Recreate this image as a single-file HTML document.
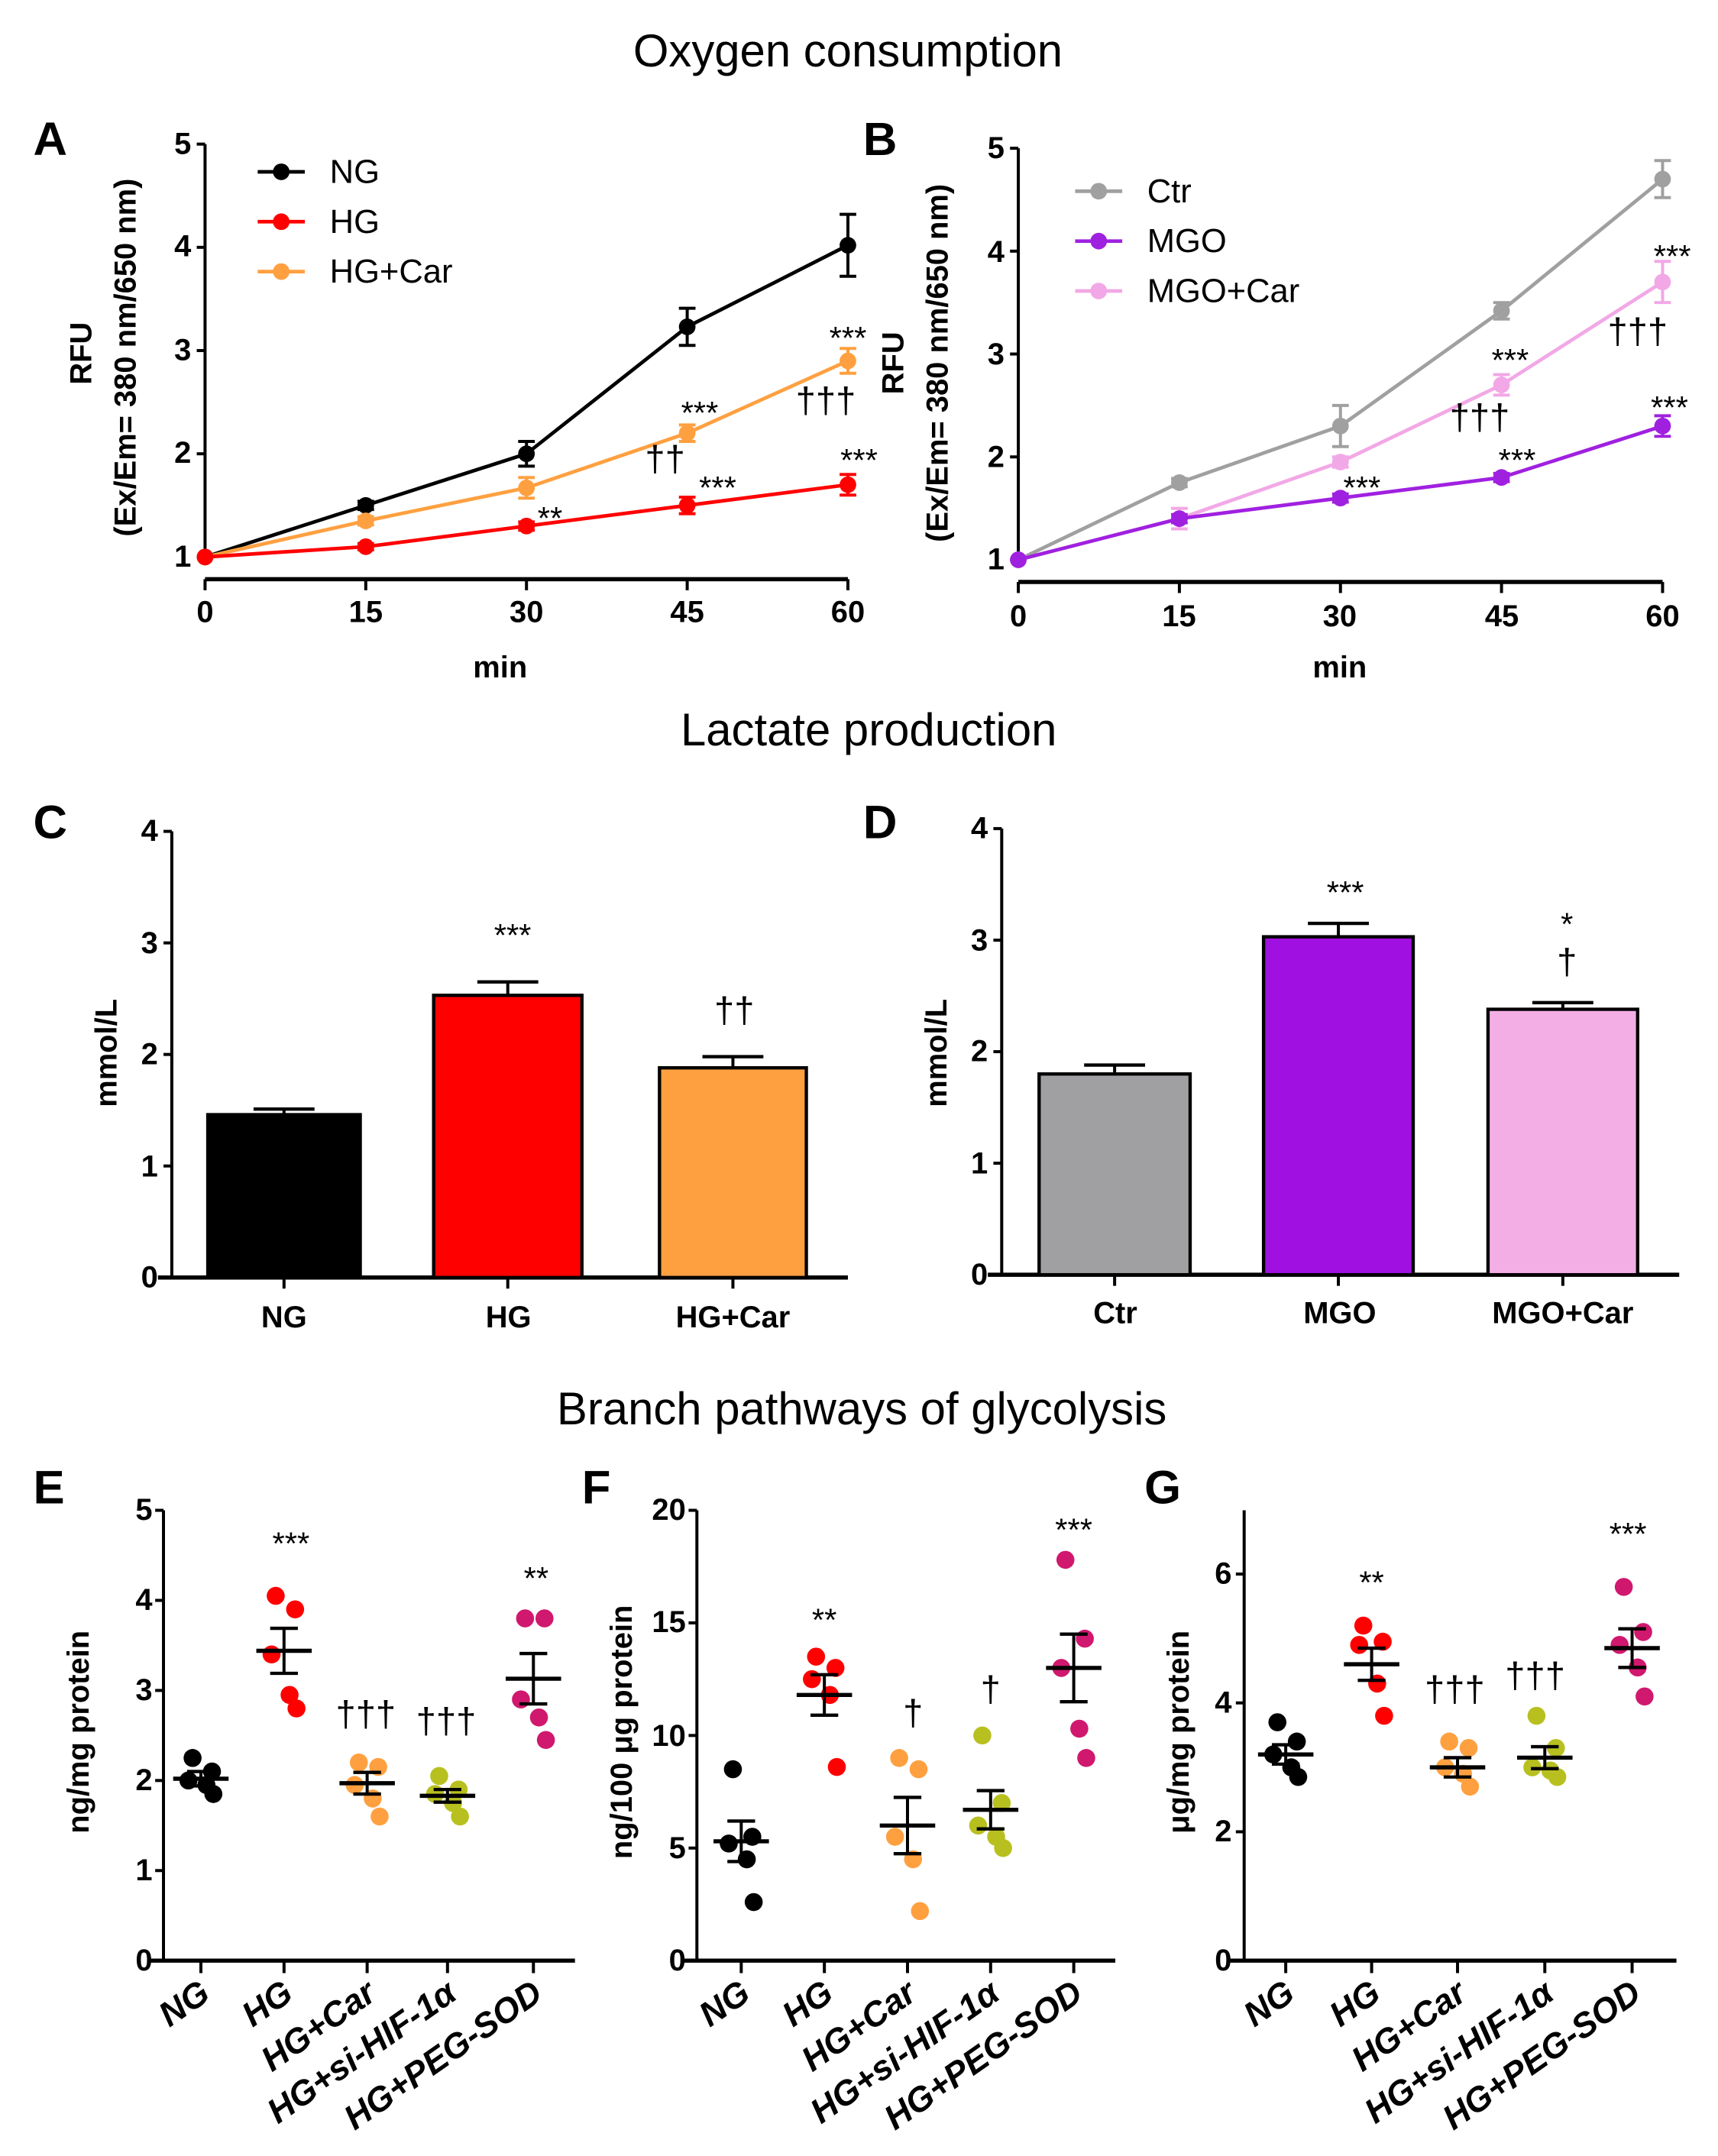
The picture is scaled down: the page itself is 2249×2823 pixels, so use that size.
<!DOCTYPE html>
<html><head><meta charset="utf-8"><style>
html,body{margin:0;padding:0;background:#fff}
svg{display:block}
text{font-family:"Liberation Sans",Arial,sans-serif}
.t{font-size:33px}
.L{font-size:34px;font-weight:bold}
.tk{font-size:22px;font-weight:bold}
.ax{font-size:22px;font-weight:bold}
.an{font-size:23px}
.lg{font-size:24px}
.xl{font-size:25px;font-weight:bold;font-style:italic}
</style></head><body>
<svg id="s" width="2249" height="2823" viewBox="0 0 1240 1556" preserveAspectRatio="none" xmlns="http://www.w3.org/2000/svg">
<rect width="1240" height="1556" fill="#fff"/>
<g id="g"></g>
<text class="t" x="612" y="48" text-anchor="middle">Oxygen consumption</text>
<text class="t" x="627" y="538" text-anchor="middle">Lactate production</text>
<text class="t" x="622" y="1028" text-anchor="middle">Branch pathways of glycolysis</text>
<text class="L" x="24" y="112">A</text>
<text class="L" x="623" y="112">B</text>
<text class="L" x="24" y="605">C</text>
<text class="L" x="623" y="605">D</text>
<text class="L" x="24" y="1085">E</text>
<text class="L" x="420" y="1085">F</text>
<text class="L" x="826" y="1085">G</text>
<g class="tk" text-anchor="end">
<text x="138" y="111">5</text><text x="138" y="185">4</text><text x="138" y="260">3</text><text x="138" y="334">2</text><text x="138" y="409">1</text>
</g>
<g class="tk" text-anchor="middle">
<text x="148" y="449">0</text><text x="264" y="449">15</text><text x="380" y="449">30</text><text x="496" y="449">45</text><text x="612" y="449">60</text>
</g>
<text class="ax" x="361" y="489" text-anchor="middle">min</text>
<text class="ax" transform="translate(66,255) rotate(-90)" text-anchor="middle">RFU</text>
<text class="ax" transform="translate(98,258) rotate(-90)" text-anchor="middle">(Ex/Em= 380 nm/650 nm)</text>
<g class="lg"><text x="238" y="132">NG</text><text x="238" y="168">HG</text><text x="238" y="204">HG+Car</text></g>
<g class="an" text-anchor="middle">
<text x="397" y="382">**</text><text x="505" y="306">***</text><text x="480" y="340" font-size="26">††</text><text x="518" y="360">***</text>
<text x="612" y="252">***</text><text x="596" y="298" font-size="26">†††</text><text x="620" y="340">***</text>
</g>
<g class="tk" text-anchor="end">
<text x="725" y="114">5</text><text x="725" y="189">4</text><text x="725" y="263">3</text><text x="725" y="337">2</text><text x="725" y="411">1</text>
</g>
<g class="tk" text-anchor="middle">
<text x="735" y="452">0</text><text x="851" y="452">15</text><text x="967" y="452">30</text><text x="1084" y="452">45</text><text x="1200" y="452">60</text>
</g>
<text class="ax" x="967" y="489" text-anchor="middle">min</text>
<text class="ax" transform="translate(652,262) rotate(-90)" text-anchor="middle">RFU</text>
<text class="ax" transform="translate(684,262) rotate(-90)" text-anchor="middle">(Ex/Em= 380 nm/650 nm)</text>
<g class="lg"><text x="828" y="146">Ctr</text><text x="828" y="182">MGO</text><text x="828" y="218">MGO+Car</text></g>
<g class="an" text-anchor="middle">
<text x="1207" y="193">***</text><text x="1182" y="248" font-size="26">†††</text><text x="1090" y="268">***</text><text x="1068" y="310" font-size="26">†††</text>
<text x="1205" y="302">***</text><text x="1095" y="340">***</text><text x="983" y="360">***</text>
</g>
<g class="tk" text-anchor="end">
<text x="114" y="607">4</text><text x="114" y="688">3</text><text x="114" y="768">2</text><text x="114" y="849">1</text><text x="114" y="929">0</text>
</g>
<g class="ax" text-anchor="middle"><text x="205" y="958">NG</text><text x="367" y="958">HG</text><text x="529" y="958">HG+Car</text></g>
<text class="ax" transform="translate(84,760) rotate(-90)" text-anchor="middle">mmol/L</text>
<g class="an" text-anchor="middle"><text x="370" y="683">***</text><text x="530" y="738" font-size="26">††</text></g>
<g class="tk" text-anchor="end">
<text x="713" y="605">4</text><text x="713" y="686">3</text><text x="713" y="766">2</text><text x="713" y="847">1</text><text x="713" y="927">0</text>
</g>
<g class="ax" text-anchor="middle"><text x="805" y="955">Ctr</text><text x="967" y="955">MGO</text><text x="1128" y="955">MGO+Car</text></g>
<text class="ax" transform="translate(683,760) rotate(-90)" text-anchor="middle">mmol/L</text>
<g class="an" text-anchor="middle"><text x="971" y="652">***</text><text x="1131" y="675">*</text><text x="1131" y="703" font-size="26">†</text></g>
<g class="tk" text-anchor="end">
<text x="110" y="1097">5</text><text x="110" y="1162">4</text><text x="110" y="1227">3</text><text x="110" y="1292">2</text><text x="110" y="1357">1</text><text x="110" y="1422">0</text>
</g>
<text class="ax" transform="translate(64,1250) rotate(-90)" text-anchor="middle">ng/mg protein</text>
<g class="an" text-anchor="middle"><text x="210" y="1122">***</text><text x="264" y="1246" font-size="26">†††</text><text x="322" y="1251" font-size="26">†††</text><text x="387" y="1147">**</text></g>
<g class="xl" text-anchor="end">
<text transform="translate(153,1442) rotate(-35)">NG</text>
<text transform="translate(213,1442) rotate(-35)">HG</text>
<text transform="translate(273,1442) rotate(-35)">HG+Car</text>
<text transform="translate(331,1442) rotate(-35)">HG+si-HIF-1α</text>
<text transform="translate(393,1442) rotate(-35)">HG+PEG-SOD</text>
</g>
<g class="tk" text-anchor="end">
<text x="495" y="1097">20</text><text x="495" y="1178">15</text><text x="495" y="1260">10</text><text x="495" y="1341">5</text><text x="495" y="1422">0</text>
</g>
<text class="ax" transform="translate(456,1250) rotate(-90)" text-anchor="middle">ng/100 μg protein</text>
<g class="an" text-anchor="middle"><text x="595" y="1177">**</text><text x="659" y="1245" font-size="26">†</text><text x="715" y="1228" font-size="26">†</text><text x="775" y="1112">***</text></g>
<g class="xl" text-anchor="end">
<text transform="translate(543,1442) rotate(-35)">NG</text>
<text transform="translate(603,1442) rotate(-35)">HG</text>
<text transform="translate(663,1442) rotate(-35)">HG+Car</text>
<text transform="translate(723,1442) rotate(-35)">HG+si-HIF-1α</text>
<text transform="translate(783,1442) rotate(-35)">HG+PEG-SOD</text>
</g>
<g class="tk" text-anchor="end">
<text x="889" y="1143">6</text><text x="889" y="1236">4</text><text x="889" y="1329">2</text><text x="889" y="1422">0</text>
</g>
<text class="ax" transform="translate(858,1250) rotate(-90)" text-anchor="middle">μg/mg protein</text>
<g class="an" text-anchor="middle"><text x="990" y="1150">**</text><text x="1050" y="1228" font-size="26">†††</text><text x="1108" y="1218" font-size="26">†††</text><text x="1175" y="1115">***</text></g>
<g class="xl" text-anchor="end">
<text transform="translate(936,1442) rotate(-35)">NG</text>
<text transform="translate(998,1442) rotate(-35)">HG</text>
<text transform="translate(1060,1442) rotate(-35)">HG+Car</text>
<text transform="translate(1123,1442) rotate(-35)">HG+si-HIF-1α</text>
<text transform="translate(1186,1442) rotate(-35)">HG+PEG-SOD</text>
</g>
</svg>
<script>
var g=document.getElementById('g'),NS='http://www.w3.org/2000/svg';
function el(t,a){var e=document.createElementNS(NS,t);for(var k in a)e.setAttribute(k,a[k]);g.appendChild(e);return e}
function ln(x1,y1,x2,y2,c,w){el('line',{x1:x1,y1:y1,x2:x2,y2:y2,stroke:c||'#000','stroke-width':w||2.2})}
function circ(x,y,r,c){el('circle',{cx:x,cy:y,r:r,fill:c})}
function linePanel(x0,dx,y1,dy,axY,topY,series,legend){
  ln(x0,topY,x0,axY-14);ln(x0,axY,x0+4*dx,axY,'#000',3);
  for(var i=0;i<5;i++){ln(x0-6,y1-i*dy,x0,y1-i*dy);ln(x0+i*dx,axY,x0+i*dx,axY+8);}
  series.forEach(function(s){
    var pts=s.v.map(function(v,i){return [x0+i*dx,y1-(v-1)*dy]});
    el('polyline',{points:pts.map(function(p){return p.join(',')}).join(' '),fill:'none',stroke:s.c,'stroke-width':2.6});
    pts.forEach(function(p,i){var e=s.e[i]*dy;if(e>0){ln(p[0],p[1]-e,p[0],p[1]+e,s.c,2.2);ln(p[0]-6,p[1]-e,p[0]+6,p[1]-e,s.c,2.2);ln(p[0]-6,p[1]+e,p[0]+6,p[1]+e,s.c,2.2);}circ(p[0],p[1],6,s.c)});
  });
  legend.forEach(function(l){ln(l[0],l[1],l[0]+34,l[1],l[2],2.6);circ(l[0]+17,l[1],6,l[2])});
}
linePanel(148,116,402,74.5,418,104,[
 {c:'#000',v:[1,1.5,2,3.23,4.02],e:[0,0.04,0.12,0.18,0.3]},
 {c:'#ffa040',v:[1,1.35,1.67,2.2,2.9],e:[0,0.04,0.1,0.08,0.12]},
 {c:'#ff0000',v:[1,1.1,1.3,1.5,1.7],e:[0,0.03,0.04,0.08,0.1]}],
 [[186,124,'#000'],[186,160,'#ff0000'],[186,196,'#ffa040']]);
linePanel(735,116.25,404,74.25,420,107,[
 {c:'#a0a0a0',v:[1,1.75,2.3,3.42,4.7],e:[0,0.04,0.2,0.08,0.18]},
 {c:'#f2a8e6',v:[1,1.4,1.95,2.7,3.7],e:[0,0.1,0.05,0.1,0.2]},
 {c:'#a020e0',v:[1,1.4,1.6,1.8,2.3],e:[0,0.04,0.04,0.04,0.1]}],
 [[776,138,'#a0a0a0'],[776,174,'#a020e0'],[776,210,'#f2a8e6']]);
function barPanel(x0,y0,dy,xEnd,bars){
  ln(x0,y0-4*dy,x0,y0);ln(x0-10,y0,xEnd,y0,'#000',3);
  for(var i=0;i<5;i++)ln(x0-6,y0-i*dy,x0,y0-i*dy);
  bars.forEach(function(b){var top=y0-b.v*dy,cx=(b.x1+b.x2)/2,e=b.e*dy;
    ln(cx,top,cx,top-e);ln(cx-22,top-e,cx+22,top-e,'#000',2.4);
    el('rect',{x:b.x1,y:top,width:b.x2-b.x1,height:b.v*dy,fill:b.c,stroke:'#000','stroke-width':2.4});
    ln(cx,y0,cx,y0+8);});
}
barPanel(124,922,80.5,612,[{x1:150,x2:260,v:1.46,e:0.05,c:'#000'},{x1:313,x2:420,v:2.53,e:0.12,c:'#ff0000'},{x1:476,x2:582,v:1.88,e:0.1,c:'#ffa040'}]);
barPanel(723,920,80.5,1212,[{x1:750,x2:859,v:1.8,e:0.08,c:'#a0a0a2'},{x1:912,x2:1020,v:3.03,e:0.12,c:'#a010e0'},{x1:1074,x2:1182,v:2.38,e:0.06,c:'#f4aee6'}]);
var cols=['#000','#ff0000','#ffa040','#b8c020','#d0186e'];
var jit=[-6,8,-9,4,9];
function scat(x0,y0,per,ticks,topY,xEnd,xs,data){
  ln(x0,topY,x0,y0);ln(x0-10,y0,xEnd,y0,'#000',3);
  ticks.forEach(function(t){ln(x0-6,y0-t*per,x0,y0-t*per)});
  xs.forEach(function(x,i){ln(x,y0,x,y0+9);var d=data[i];
    d.p.forEach(function(v,j){circ(x+jit[j],y0-v*per,6.5,cols[i])});
    var m=y0-d.m*per,s=d.s*per;
    ln(x-20,m,x+20,m,'#000',3);ln(x,m-s,x,m+s);ln(x-10,m-s,x+10,m-s,'#000',2.4);ln(x-10,m+s,x+10,m+s,'#000',2.4);
  });
}
scat(118,1415,65,[0,1,2,3,4,5],1090,415,[145,205,265,323,385],[
 {p:[2.25,2.1,2.0,1.95,1.85],m:2.02,s:0.08},{p:[4.05,3.9,3.4,2.95,2.8],m:3.44,s:0.25},
 {p:[2.2,2.15,1.95,1.8,1.6],m:1.97,s:0.12},{p:[2.05,1.9,1.85,1.75,1.6],m:1.83,s:0.07},
 {p:[3.8,3.8,2.9,2.7,2.45],m:3.13,s:0.28}]);
scat(503,1415,16.25,[0,5,10,15,20],1090,805,[535,595,655,715,775],[
 {p:[8.5,5.5,5.2,4.5,2.6],m:5.3,s:0.9},{p:[13.5,13,12.5,11.8,8.6],m:11.8,s:0.9},
 {p:[9,8.5,5.5,4.5,2.2],m:6,s:1.25},{p:[10,7,6,5.5,5],m:6.7,s:0.85},
 {p:[17.8,14.3,13,10.3,9],m:13,s:1.5}]);
scat(898,1415,46.5,[0,2,4,6],1090,1210,[928,990,1052,1115,1178],[
 {p:[3.7,3.4,3.2,3.0,2.85],m:3.2,s:0.15},{p:[5.2,4.95,4.9,4.3,3.8],m:4.6,s:0.25},
 {p:[3.4,3.3,3.0,2.9,2.7],m:3.0,s:0.15},{p:[3.8,3.3,3.0,2.95,2.85],m:3.15,s:0.17},
 {p:[5.8,5.1,4.9,4.55,4.1],m:4.85,s:0.3}]);
</script>
</body></html>
